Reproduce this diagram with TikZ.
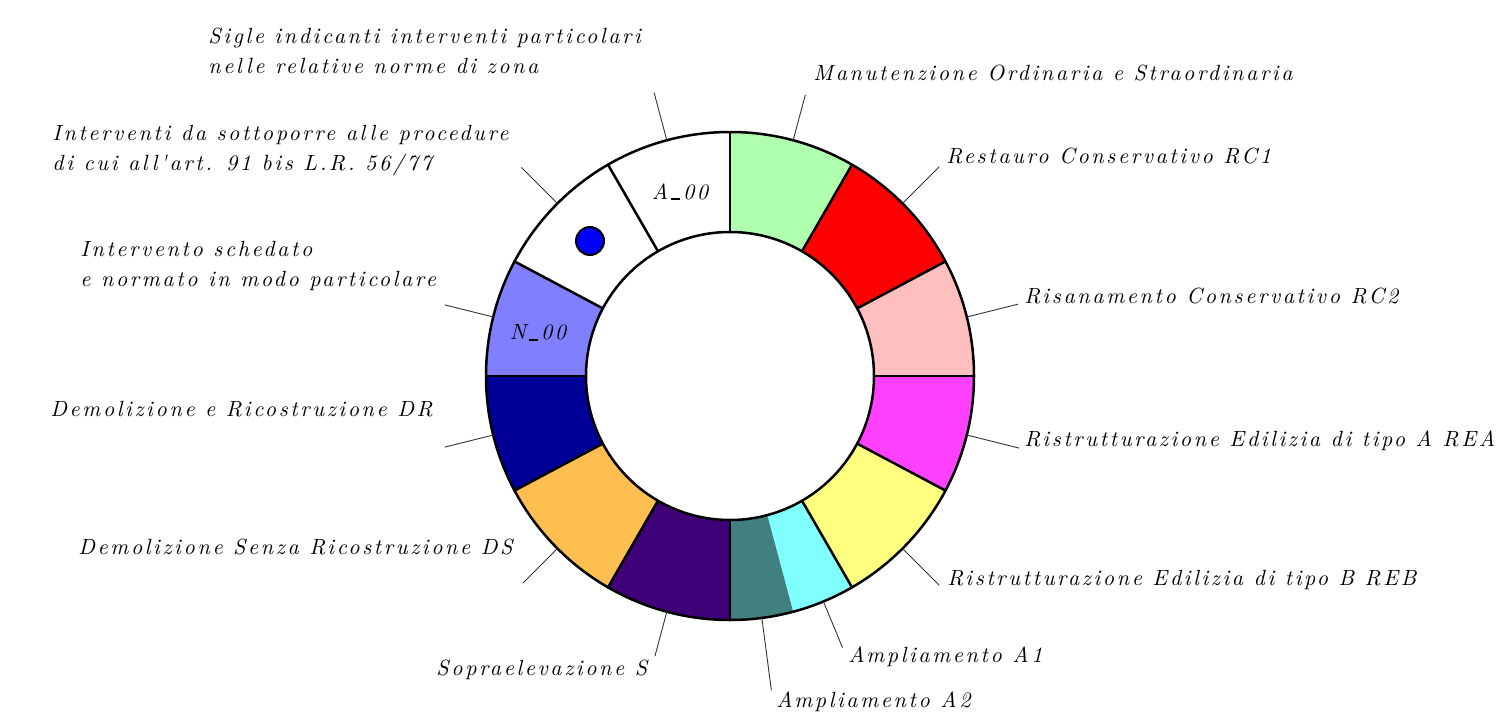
\documentclass[tikz,border=0pt]{standalone}
\usepackage{fontspec}
\newfontfamily\lblfont{lmroman10-italic.otf}[LetterSpace=12]
\definecolor{cgreen}{RGB}{175,255,175}
\definecolor{cred}{RGB}{255,0,0}
\definecolor{cpink}{RGB}{255,191,191}
\definecolor{cmag}{RGB}{255,64,255}
\definecolor{cyel}{RGB}{255,255,128}
\definecolor{ccyan}{RGB}{128,255,255}
\definecolor{cteal}{RGB}{64,128,128}
\definecolor{cpurp}{RGB}{64,0,120}
\definecolor{corange}{RGB}{255,191,80}
\definecolor{cdblue}{RGB}{0,0,153}
\definecolor{clblue}{RGB}{128,128,255}
\definecolor{cdot}{RGB}{0,0,255}
\newcommand{\donutseg}[3]{\path[fill=#3] (#1:244) arc[start angle=#1,end angle=#2,radius=244] -- (#2:144) arc[start angle=#2,end angle=#1,radius=144] -- cycle;}
\newcommand{\usc}{\kern1.2pt\rule[-0.6pt]{4.6pt}{1pt}\kern1.6pt}
\tikzset{
  ring/.style={line width=1.25pt, line join=round},
  leader/.style={line width=0.45pt, draw=black!80},
  lbl/.style={font=\lblfont\fontsize{11}{15}\selectfont, inner sep=0pt, align=left},
}
\begin{document}
\begin{tikzpicture}[x=0.5pt,y=0.5pt]
\useasboundingbox (0,0) rectangle (1496,720);
\begin{scope}[shift={(730,344)}]
  \donutseg{60}{90}{cgreen}
  \donutseg{28}{60}{cred}
  \donutseg{0}{28}{cpink}
  \donutseg{-28}{0}{cmag}
  \donutseg{-60}{-28}{cyel}
  \donutseg{-75}{-60}{ccyan}
  \donutseg{-90}{-75}{cteal}
  \donutseg{-120}{-90}{cpurp}
  \donutseg{-152}{-120}{corange}
  \donutseg{-180}{-152}{cdblue}
  \donutseg{152}{180}{clblue}
  \donutseg{120}{152}{white}
  \donutseg{90}{120}{white}
  \draw[ring] (0,0) circle[radius=244];
  \draw[ring] (0,0) circle[radius=144];
  \foreach \a in {90,60,28,0,-28,-60,-90,-120,-152,180,152,120}
    \draw[ring] (\a:144) -- (\a:244);
  % leader coordinates
  \coordinate (s1) at (75:244);   \coordinate (e1) at (75:291);
  \coordinate (s2) at (45:244);   \coordinate (e2) at (45:296);
  \coordinate (s3) at (14:244);   \coordinate (e3) at (14:297);
  \coordinate (s4) at (-14:244);  \coordinate (e4) at (-14:298);
  \coordinate (s5) at (-45:244);  \coordinate (e5) at (-45:296);
  \coordinate (s6) at (-67.5:244);\coordinate (e6) at (-67.5:294);
  \coordinate (s7) at (-82.5:244);\coordinate (e7) at (-82.5:317);
  \coordinate (s8) at (-105:244); \coordinate (e8) at (-105:290);
  \coordinate (s9) at (-135:244); \coordinate (e9) at (-135:293);
  \coordinate (s10) at (194:244); \coordinate (e10) at (194:294);
  \coordinate (s11) at (166:244); \coordinate (e11) at (166:294);
  \coordinate (s12) at (135:244); \coordinate (e12) at (135:295);
  \coordinate (s13) at (105:244); \coordinate (e13) at (105:293);
\end{scope}
\foreach \i in {1,...,13} \draw[leader] (s\i) -- (e\i);
% dot
\node[circle, draw, line width=1pt, fill=cdot, minimum size=14pt, inner sep=0pt] (dot) at (590,479) {};
\node[lbl] (a00) at (680,528) {A\usc00};
\node[lbl] (n00) at (538,387) {N\usc00};
% labels
\node[lbl, anchor=base west] (t1) at (813,640) {Manutenzione Ordinaria e Straordinaria};
\node[lbl, anchor=base west] (t2) at (946,557) {Restauro Conservativo RC1};
\node[lbl, anchor=base west] (t3) at (1024,417) {Risanamento Conservativo RC2};
\node[lbl, anchor=base west] (t4) at (1024,274) {Ristrutturazione Edilizia di tipo A REA};
\node[lbl, anchor=base west] (t5) at (947,135) {Ristrutturazione Edilizia di tipo B REB};
\node[lbl, anchor=base west] (t6) at (848,58) {Ampliamento A1};
\node[lbl, anchor=base west] (t7) at (776,13) {Ampliamento A2};
\node[lbl, anchor=base west] (t8) at (436,45) {Sopraelevazione S};
\node[lbl, anchor=base west] (t9) at (78,166) {Demolizione Senza Ricostruzione DS};
\node[lbl, anchor=base west] (t10) at (50,304) {Demolizione e Ricostruzione DR};
\node[lbl, anchor=base west] (t11) at (80,434) {Intervento schedato\\e normato in modo particolare};
\node[lbl, anchor=base west] (t12) at (52,550) {Interventi da sottoporre alle procedure\\di cui all'art. 91 bis L.R. 56/77};
\node[lbl, anchor=base west] (t13) at (208,647) {Sigle indicanti interventi particolari\\nelle relative norme di zona};
\end{tikzpicture}
\end{document}
